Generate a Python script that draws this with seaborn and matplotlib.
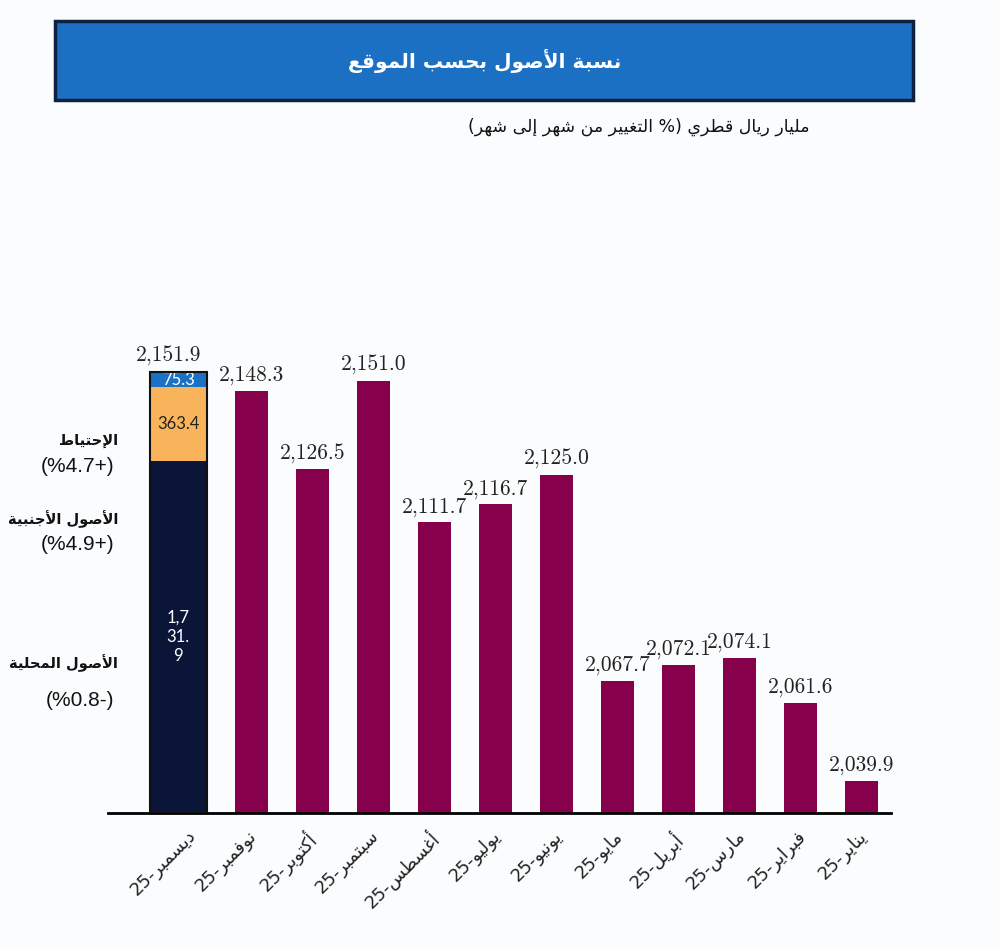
import numpy as np
import pandas as pd
import matplotlib
matplotlib.use("Agg")
import matplotlib.pyplot as plt
import matplotlib.transforms as mtransforms
from matplotlib.patches import Rectangle
import seaborn as sns

# ---------------- data ----------------
months = ["ديسمبر", "نوفمبر", "أكتوبر", "سبتمبر", "أغسطس", "يوليو",
          "يونيو", "مايو", "أبريل", "مارس", "فبراير", "يناير"]
year_suffix = "25"
totals = [2151.9, 2148.3, 2126.5, 2151.0, 2111.7, 2116.7,
          2125.0, 2067.7, 2072.1, 2074.1, 2061.6, 2039.9]
seg_names = ["الأصول المحلية", "الأصول الأجنبية", "الإحتياط"]
seg_values = [1731.9, 363.4, 75.3]
seg_labels = ["1,7\n31.\n9", "363.4", "75.3"]
seg_changes = ["(%0.8-)", "(%4.9+)", "(%4.7+)"]
title = "نسبة الأصول بحسب الموقع"
sub_ar_left = "التغيير من شهر إلى شهر"
sub_ar_right = "مليار ريال قطري"

# ---------------- minimal Arabic shaping (presentation forms) ----------------
FORMS = {
    'ا': ('\uFE8D', '\uFE8E', None, None),
    'أ': ('\uFE83', '\uFE84', None, None),
    'إ': ('\uFE87', '\uFE88', None, None),
    'آ': ('\uFE81', '\uFE82', None, None),
    'ب': ('\uFE8F', '\uFE90', '\uFE91', '\uFE92'),
    'ة': ('\uFE93', '\uFE94', None, None),
    'ت': ('\uFE95', '\uFE96', '\uFE97', '\uFE98'),
    'ج': ('\uFE9D', '\uFE9E', '\uFE9F', '\uFEA0'),
    'ح': ('\uFEA1', '\uFEA2', '\uFEA3', '\uFEA4'),
    'د': ('\uFEA9', '\uFEAA', None, None),
    'ر': ('\uFEAD', '\uFEAE', None, None),
    'س': ('\uFEB1', '\uFEB2', '\uFEB3', '\uFEB4'),
    'ش': ('\uFEB5', '\uFEB6', '\uFEB7', '\uFEB8'),
    'ص': ('\uFEB9', '\uFEBA', '\uFEBB', '\uFEBC'),
    'ط': ('\uFEC1', '\uFEC2', '\uFEC3', '\uFEC4'),
    'ع': ('\uFEC9', '\uFECA', '\uFECB', '\uFECC'),
    'غ': ('\uFECD', '\uFECE', '\uFECF', '\uFED0'),
    'ف': ('\uFED1', '\uFED2', '\uFED3', '\uFED4'),
    'ق': ('\uFED5', '\uFED6', '\uFED7', '\uFED8'),
    'ك': ('\uFED9', '\uFEDA', '\uFEDB', '\uFEDC'),
    'ل': ('\uFEDD', '\uFEDE', '\uFEDF', '\uFEE0'),
    'م': ('\uFEE1', '\uFEE2', '\uFEE3', '\uFEE4'),
    'ن': ('\uFEE5', '\uFEE6', '\uFEE7', '\uFEE8'),
    'ه': ('\uFEE9', '\uFEEA', '\uFEEB', '\uFEEC'),
    'و': ('\uFEED', '\uFEEE', None, None),
    'ى': ('\uFEEF', '\uFEF0', None, None),
    'ي': ('\uFEF1', '\uFEF2', '\uFEF3', '\uFEF4'),
}
LAM_ALEF = {'ا': ('\uFEFB', '\uFEFC'), 'أ': ('\uFEF7', '\uFEF8'),
            'إ': ('\uFEF9', '\uFEFA'), 'آ': ('\uFEF5', '\uFEF6')}


def _jt(u):
    if u[0] == 'LA':
        return 'R'
    f = FORMS.get(u[1])
    if f is None:
        return 'U'
    return 'D' if f[2] else 'R'


def shape_word(w):
    units, i = [], 0
    while i < len(w):
        if w[i] == 'ل' and i + 1 < len(w) and w[i + 1] in LAM_ALEF:
            units.append(('LA', w[i + 1]))
            i += 2
        else:
            units.append(('C', w[i]))
            i += 1
    out = []
    for k, u in enumerate(units):
        prev_j = k > 0 and _jt(units[k - 1]) == 'D' and _jt(u) in 'DR'
        next_j = k + 1 < len(units) and _jt(u) == 'D' and _jt(units[k + 1]) in 'DR'
        if u[0] == 'LA':
            iso, fin = LAM_ALEF[u[1]]
            out.append(fin if prev_j else iso)
            continue
        f = FORMS.get(u[1])
        if f is None:
            out.append(u[1])
            continue
        iso, fin, ini, med = f
        if prev_j and next_j:
            out.append(med)
        elif prev_j:
            out.append(fin)
        elif next_j:
            out.append(ini)
        else:
            out.append(iso)
    return ''.join(out)


def ar(s):
    return ' '.join(shape_word(w)[::-1] for w in s.split(' ')[::-1])


# ---------------- style ----------------
sns.set_theme(style="white")
plt.rcParams['font.family'] = ['DejaVu Sans']
BG = '#FBFCFD'
MAROON = '#87004B'
NAVY = '#0B1538'
ORANGE = '#F9B45B'
BLUE = '#1B72C4'

W, H = 1000, 947
fig = plt.figure(figsize=(W / 100, H / 100), dpi=100, facecolor=BG)


def fx(px):
    return px / W


def fy(py):
    return 1 - py / H


# axes geometry (pixels)
ax_l, ax_r, ax_b, ax_t = 108, 891, 813, 300
ax = fig.add_axes([fx(ax_l), fy(ax_b), fx(ax_r - ax_l), (ax_b - ax_t) / H])
ax.set_facecolor('none')

df = pd.DataFrame({"month": months[1:], "value": totals[1:]})
sns.barplot(data=df, x="month", y="value", order=months, color=MAROON,
            saturation=1, width=0.54, ax=ax, linewidth=0)

ymin = 2031.0
ax.set_ylim(ymin, ymin + (ax_b - ax_t) / 3.6)
ax.set_xlim(-1.35, 11.48)

for i, v in enumerate(totals):
    if i == 0:
        continue
    ax.annotate(f"{v:,.1f}", (i, v), xytext=(0, 4), textcoords='offset points',
                ha='center', va='bottom', fontfamily='cmr10', fontsize=15.5,
                color='#222222')

# stacked first bar on its own 0-based scale
ax2 = ax.twinx()
ax2.set_ylim(0, 2525)
x0 = -0.2
bottom = 0.0
seg_colors = [NAVY, ORANGE, BLUE]
seg_text_colors = ['white', '#222222', 'white']
for val, col, lab, tc in zip(seg_values, seg_colors, seg_labels, seg_text_colors):
    ax2.bar(x0, val, bottom=bottom, width=0.93, color=col, edgecolor='none', zorder=2)
    ax2.text(x0, bottom + val / 2, lab, ha='center', va='center', color=tc,
             fontfamily='Lato', fontsize=12, linespacing=1.25, zorder=3)
    bottom += val
ax2.bar(x0, bottom, width=0.93, fill=False, edgecolor='#111111', linewidth=1.5, zorder=4)
ax2.annotate(f"{totals[0]:,.1f}", (x0 - 0.15, bottom), xytext=(0, 4),
             textcoords='offset points', ha='center', va='bottom',
             fontfamily='cmr10', fontsize=15.5, color='#222222')

for a in (ax, ax2):
    for s in ('top', 'right', 'left'):
        a.spines[s].set_visible(False)
    a.set_yticks([])
    a.set_ylabel('')
ax2.spines['bottom'].set_visible(False)
ax.spines['bottom'].set_color('black')
ax.spines['bottom'].set_linewidth(2)
ax.set_xlabel('')

ax.set_xticks(range(len(months)))
ax.tick_params(axis='x', length=0, pad=10)
ax.set_xticklabels([year_suffix + '-' + ar(m) for m in months], rotation=45,
                   ha='right', fontsize=13, color='#222222')
offset = mtransforms.ScaledTranslation(9 / 100, 0, fig.dpi_scale_trans)
for tick in ax.xaxis.get_major_ticks():
    tick.label1.set_transform(tick.label1.get_transform() + offset)

# title box
fig.patches.append(Rectangle((fx(55), fy(100)), fx(913 - 55), (100 - 21) / H,
                             transform=fig.transFigure, facecolor='#1B70C4',
                             edgecolor='#0F2140', linewidth=2.5))
fig.text(fx(485), fy(61), ar(title), ha='center', va='center', color='white',
         fontsize=14.5, fontweight='bold')

# subtitle
fig.text(fx(810), fy(127), '(' + ar(sub_ar_left) + ' %) ' + ar(sub_ar_right),
         ha='right', va='center', fontsize=12.5, color='#111111')

# left labels
name_y = [663, 519, 440]
chg_y = [700, 544, 466]
for nm, ch, ny, cy in zip(seg_names, seg_changes, name_y, chg_y):
    fig.text(fx(118), fy(ny), ar(nm), ha='right', va='center', fontsize=10.5,
             fontweight='bold', color='#111111')
    fig.text(fx(114), fy(cy), ch, ha='right', va='center', fontsize=15,
             fontfamily='Liberation Sans', color='#111111')

fig.savefig('out.png', dpi=100, facecolor=BG)
